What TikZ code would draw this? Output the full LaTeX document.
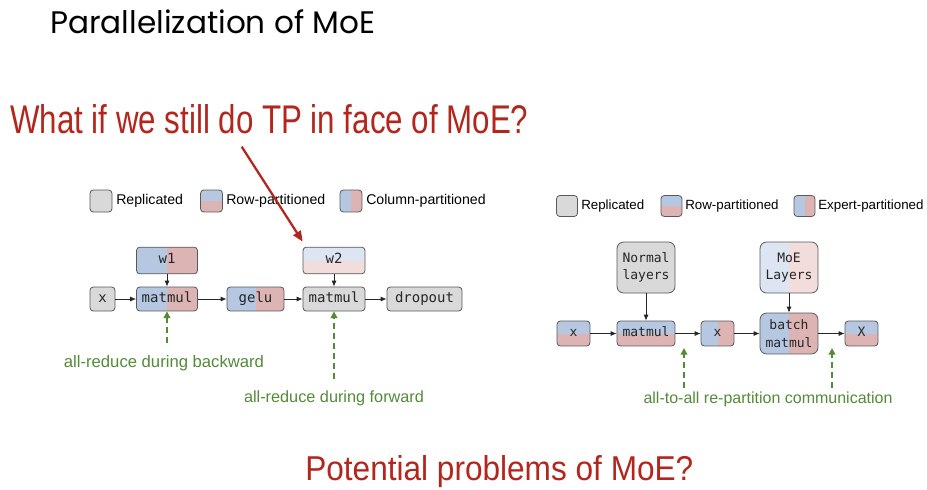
\documentclass[tikz,border=0pt]{standalone}
\usepackage{fontspec}
\setmainfont{Liberation Sans}
\newfontfamily\monofont{DejaVu Sans Mono}
\newfontfamily\titlefont{Poppins}
\usepackage{tikz}
\usetikzlibrary{arrows.meta}
\usepackage{xcolor}
\definecolor{repl}{HTML}{D9D9D9}
\definecolor{rowblue}{HTML}{B6C8E1}
\definecolor{rowred}{HTML}{DDB4B4}
\definecolor{paleblue}{HTML}{DCE5F1}
\definecolor{palered}{HTML}{F2DCDC}
\definecolor{edge}{HTML}{595959}
\definecolor{commgreen}{HTML}{548A38}
\definecolor{tpred}{HTML}{B3261E}

\begin{document}
\begin{tikzpicture}[x=0.75pt, y=-0.75pt,
    box/.style={draw=edge, line width=0.6pt, rounded corners=2.5pt, inner sep=0pt, text=black!85},
    rep/.style={box, fill=repl},
    rowsplit/.style 2 args={box, path picture={
        \fill[#1, sharp corners] (path picture bounding box.north west) rectangle (path picture bounding box.east);
        \fill[#2, sharp corners] (path picture bounding box.west) rectangle (path picture bounding box.south east);}},
    colsplit/.style 2 args={box, path picture={
        \fill[#1, sharp corners] (path picture bounding box.north west) rectangle (path picture bounding box.south);
        \fill[#2, sharp corners] (path picture bounding box.north) rectangle (path picture bounding box.south east);}},
    key/.style={minimum width=16.5pt, minimum height=16.5pt},
    keytext/.style={anchor=west, inner sep=0pt},
    oneline/.style={text height=0.72em, text depth=0.2em},
    flow/.style={-{Latex[length=4.5pt, width=3.8pt]}, line width=0.6pt, black!85},
    comm/.style={-{Triangle[length=5pt, width=5pt]}, commgreen, line width=1.1pt, dash pattern=on 4.5pt off 3pt},
    commtext/.style={text=commgreen, inner sep=0pt}]
    \useasboundingbox (0,0) rectangle (927,489);

    % Headings
    \node[anchor=base west, inner sep=0pt] (title) at (50,33) {\resizebox{243.75pt}{!}{\titlefont Parallelization of MoE}};
    \node[anchor=base west, inner sep=0pt, text=tpred] (question) at (10,133) {\resizebox{388.5pt}{21.75pt}{What if we still do TP in face of MoE?}};
    \node[anchor=base west, inner sep=0pt, text=tpred] (problems) at (305,480) {\resizebox{291pt}{18.75pt}{Potential problems of MoE?}};

    % Tensor parallelism (left)
    \begin{scope}[every node/.append style={font=\fontsize{10.6}{12}\selectfont}]
        \node[rep, key] (kr1) at (101,201) {};
        \node[keytext] at (116,201) {Replicated};
        \node[rowsplit={rowblue}{rowred}, key] (kw1) at (211.5,201) {};
        \node[keytext] at (226,201) {Row-partitioned};
        \node[colsplit={rowblue}{rowred}, key] (kc1) at (351,201) {};
        \node[keytext] at (366,201) {Column-partitioned};
    \end{scope}
    \begin{scope}[every node/.append style={font=\monofont\fontsize{10.5}{12}\selectfont, minimum height=18pt, oneline}]
        \node[rep, minimum width=18.75pt] (xL) at (102.5,299) {x};
        \node[colsplit={rowblue}{rowred}, minimum width=45.75pt] (mm1) at (167,299) {matmul};
        \node[colsplit={rowblue}{rowred}, minimum width=42.75pt] (gelu) at (255.5,299) {gelu};
        \node[rep, minimum width=46.5pt] (mm2) at (334,299) {matmul};
        \node[rep, minimum width=56.25pt] (drop) at (424.5,299) {dropout};
        \node[colsplit={rowblue}{rowred}, minimum width=45.75pt, minimum height=20pt] (w1) at (167,260.5) {w1};
        \node[rowsplit={paleblue}{palered}, minimum width=46.5pt, minimum height=20pt] (w2) at (334,260.5) {w2};
    \end{scope}
    \draw[flow] (xL) -- (mm1);
    \draw[flow] (mm1) -- (gelu);
    \draw[flow] (gelu) -- (mm2);
    \draw[flow] (mm2) -- (drop);
    \draw[flow] (w1) -- (mm1);
    \draw[flow] (w2) -- (mm2);
    \coordinate (bwd) at (167,343);
    \coordinate (fwd) at (334,379);
    \draw[comm] (bwd) -- (mm1);
    \draw[comm] (fwd) -- (mm2);
    \node[commtext, font=\fontsize{12.5}{14}\selectfont] (bwdtext) at (164,363) {all-reduce during backward};
    \node[commtext, font=\fontsize{12.2}{14}\selectfont] (fwdtext) at (334,398) {all-reduce during forward};

    % pointer from the question
    \coordinate (qfrom) at (241.7,146.7);
    \coordinate (qto) at (302.7,241.7);
    \draw[-{Triangle[length=8pt, width=6.5pt]}, tpred, line width=1.7pt] (qfrom) -- (qto);

    % Expert parallelism (right)
    \begin{scope}[every node/.append style={font=\fontsize{10}{12}\selectfont}]
        \node[rep, key, minimum width=15.75pt, minimum height=15.75pt] (kr2) at (567,206) {};
        \node[keytext] at (581,206) {Replicated};
        \node[rowsplit={rowblue}{rowred}, key, minimum width=15.75pt, minimum height=15.75pt] (kw2) at (671.5,206) {};
        \node[keytext] at (685,206) {Row-partitioned};
        \node[colsplit={rowblue}{rowred}, key, minimum width=15.75pt, minimum height=15.75pt] (ke2) at (804.5,206) {};
        \node[keytext] at (818,206) {Expert-partitioned};
    \end{scope}
    \begin{scope}[every node/.append style={font=\monofont\fontsize{9.75}{12.5}\selectfont, align=center, minimum height=18.75pt}]
        \node[rep, rounded corners=5pt, minimum width=43.5pt, minimum height=38.25pt] (normal) at (646,267.5) {Normal\\layers};
        \node[colsplit={paleblue}{palered}, rounded corners=5pt, minimum width=43.5pt, minimum height=38.25pt] (moe) at (789,267.5) {MoE\\Layers};
        \node[rowsplit={rowblue}{rowred}, minimum width=24.75pt, oneline] (xR1) at (573.5,333.5) {x};
        \node[rowsplit={rowblue}{rowred}, minimum width=43.5pt, oneline] (mmR) at (646,333.5) {matmul};
        \node[colsplit={rowblue}{rowred}, minimum width=24.75pt, oneline] (xR2) at (717.5,333.5) {x};
        \node[colsplit={rowblue}{rowred}, rounded corners=5pt, minimum width=43.5pt, minimum height=30.75pt, font=\monofont\fontsize{9.75}{13.3}\selectfont] (bmm) at (789,333.5) {batch\\matmul};
        \node[rowsplit={rowblue}{rowred}, minimum width=24.75pt, oneline] (XR) at (861.5,333.5) {X};
    \end{scope}
    \draw[flow] (xR1) -- (mmR);
    \draw[flow] (mmR) -- (xR2);
    \draw[flow] (xR2) -- (bmm);
    \draw[flow] (bmm) -- (XR);
    \draw[flow] (normal) -- (mmR);
    \draw[flow] (moe) -- (bmm);
    \coordinate (a2afrom1) at (684,388);
    \coordinate (a2ato1) at (684,348);
    \coordinate (a2afrom2) at (832,388);
    \coordinate (a2ato2) at (832,348);
    \draw[comm] (a2afrom1) -- (a2ato1);
    \draw[comm] (a2afrom2) -- (a2ato2);
    \node[commtext, font=\fontsize{12}{14}\selectfont] (a2atext) at (768,399.5) {all-to-all re-partition communication};
\end{tikzpicture}
\end{document}
